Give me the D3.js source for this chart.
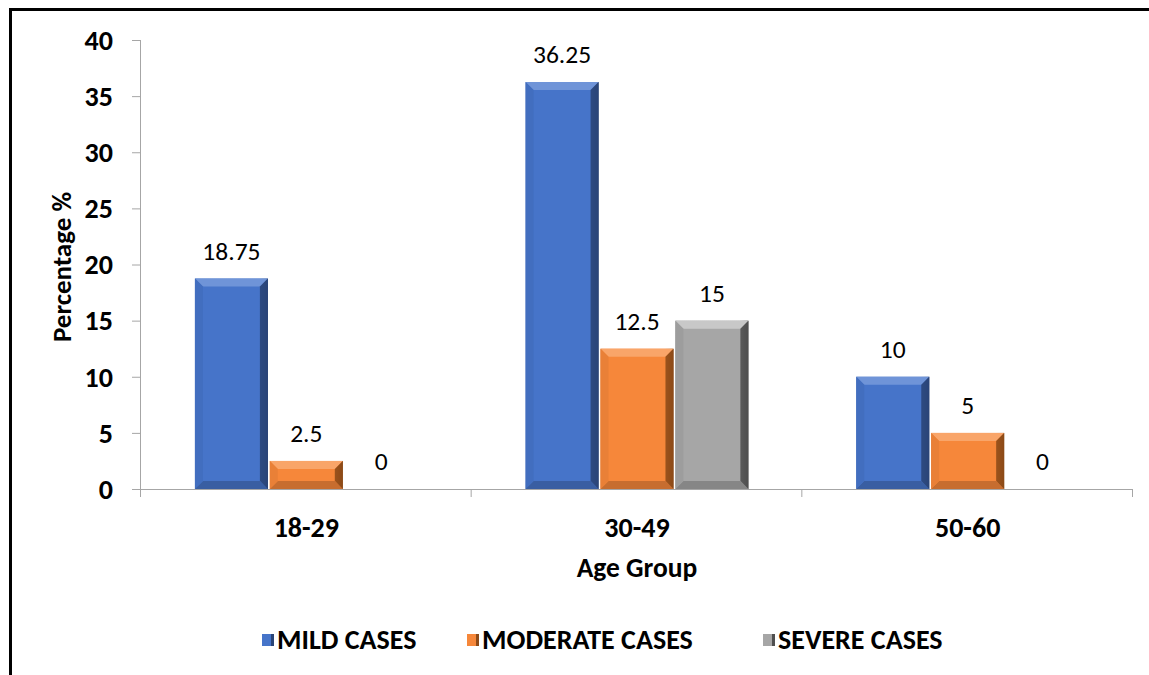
<!DOCTYPE html>
<html>
<head>
<meta charset="utf-8">
<script src="https://cdn.jsdelivr.net/npm/d3@7"></script>
<style>
  html, body { margin: 0; padding: 0; background: #fff; }
  svg { display: block; }
  text { font-family: Carlito, Calibri, "Open Sans", "Noto Sans", sans-serif; fill: #000; }
</style>
</head>
<body>
<svg id="chart" width="1149" height="675"></svg>
<script>
// Age groups along the x axis
const categories = ["18-29", "30-49", "50-60"];
// Series names (legend order)
const seriesNames = ["MILD CASES", "MODERATE CASES", "SEVERE CASES"];
// Percentages per series, one value per age group
const mild = [18.75, 36.25, 10];
const moderate = [2.5, 12.5, 5];
const severe = [0, 15, 0];
// Y axis ticks
const yTicks = [0, 5, 10, 15, 20, 25, 30, 35, 40];

const seriesValues = [mild, moderate, severe];
const colors = ["#4674c9", "#f6873a", "#a6a6a6"];
const darks = ["#2a4477", "#8c4a17", "#4f4f4f"];
const lights = ["#6f94d8", "#f9a569", "#c8c8c8"];

const svg = d3.select("#chart");
const W = 1149, H = 675;
const plot = { left: 141, right: 1133, top: 40, bottom: 489 };

// frame (top and left edges visible)
svg.append("line").attr("x1", 10).attr("x2", W).attr("y1", 9.5).attr("y2", 9.5)
  .attr("stroke", "#000").attr("stroke-width", 3);
svg.append("line").attr("x1", 10.5).attr("x2", 10.5).attr("y1", 8).attr("y2", H)
  .attr("stroke", "#000").attr("stroke-width", 3);

const y = d3.scaleLinear().domain([0, 40]).range([plot.bottom, plot.top]);
const x0 = d3.scaleBand().domain(categories).range([plot.left, plot.right]).paddingInner(0).paddingOuter(0);
const x1 = d3.scaleBand().domain(seriesNames).range([0, x0.bandwidth()]).paddingInner(0.025).paddingOuter(0.72);

// gradients giving the bars a bevelled look
const defs = svg.append("defs");
colors.forEach((c, i) => {
  const g = defs.append("linearGradient").attr("id", "hg" + i)
    .attr("x1", "0%").attr("x2", "100%").attr("y1", "0%").attr("y2", "0%");
  g.append("stop").attr("offset", "0%").attr("stop-color", d3.color(c).darker(0.25));
  g.append("stop").attr("offset", "6%").attr("stop-color", c);
  g.append("stop").attr("offset", "88%").attr("stop-color", c);
  g.append("stop").attr("offset", "100%").attr("stop-color", darks[i]);
});

// y axis
const yAxis = svg.append("g").attr("transform", `translate(${plot.left},0)`)
  .call(d3.axisLeft(y).tickValues(yTicks).tickSize(9).tickPadding(19));
yAxis.select(".domain").attr("stroke", "#a6a6a6").attr("d", `M-0.5,${plot.top}V${plot.bottom + 1}`);
yAxis.selectAll(".tick line").attr("stroke", "#a6a6a6");
yAxis.selectAll(".tick text").attr("font-size", 28).attr("font-weight", "bold").attr("fill", "#000")
  .attr("dy", "0.33em");

// x axis baseline and category separators
const xg = svg.append("g");
xg.append("line").attr("x1", plot.left).attr("x2", plot.right).attr("y1", plot.bottom + 0.5).attr("y2", plot.bottom + 0.5)
  .attr("stroke", "#a6a6a6");
const seps = categories.map(c => x0(c)).concat([plot.right]);
xg.selectAll("line.sep").data(seps).enter().append("line").attr("class", "sep")
  .attr("x1", d => d - 0.5).attr("x2", d => d - 0.5).attr("y1", plot.bottom).attr("y2", plot.bottom + 8)
  .attr("stroke", "#a6a6a6");
xg.selectAll("text.cat").data(categories).enter().append("text").attr("class", "cat")
  .attr("x", d => x0(d) + x0.bandwidth() / 2).attr("y", 537)
  .attr("text-anchor", "middle").attr("font-size", 28).attr("font-weight", "bold").text(d => d);

// bars
const bev = 8;
const groups = svg.selectAll("g.grp").data(categories).enter().append("g").attr("class", "grp")
  .attr("transform", d => `translate(${x0(d)},0)`);
groups.each(function (cat, ci) {
  const g = d3.select(this);
  seriesNames.forEach((s, si) => {
    const v = seriesValues[si][ci];
    const bx = x1(s), bw = x1.bandwidth();
    const top = y(v), bot = y(0);
    const h = bot - top;
    if (h > 0) {
      g.append("rect").attr("x", bx).attr("y", top).attr("width", bw).attr("height", h)
        .attr("fill", `url(#hg${si})`);
      const b = Math.min(bev, h / 2);
      // top bevel
      g.append("path").attr("d", `M${bx},${top}H${bx + bw}L${bx + bw - b},${top + b}H${bx + b}Z`)
        .attr("fill", lights[si]);
      // right bevel
      g.append("path").attr("d", `M${bx + bw},${top}V${bot}L${bx + bw - b},${bot - b}V${top + b}Z`)
        .attr("fill", darks[si]).attr("opacity", 0.85);
      // bottom bevel
      g.append("path").attr("d", `M${bx},${bot}H${bx + bw}L${bx + bw - b},${bot - b}H${bx + b}Z`)
        .attr("fill", d3.color(colors[si]).darker(0.6));
      // left bevel
      g.append("path").attr("d", `M${bx},${top}V${bot}L${bx + b},${bot - b}V${top + b}Z`)
        .attr("fill", d3.color(colors[si]).darker(0.15));
    }
    g.append("text").attr("x", bx + bw / 2).attr("y", top - 19)
      .attr("text-anchor", "middle").attr("font-size", 25.5).text(v);
  });
});

// axis titles
svg.append("text").attr("x", 637).attr("y", 577).attr("text-anchor", "middle")
  .attr("font-size", 27.5).attr("font-weight", "bold").text("Age Group");
svg.append("text").attr("transform", "translate(71,267) rotate(-90)").attr("text-anchor", "middle")
  .attr("font-size", 27).attr("font-weight", "bold").text("Percentage %");

// legend
const legendX = [262, 467, 763];
const lg = svg.selectAll("g.leg").data(seriesNames).enter().append("g").attr("class", "leg")
  .attr("transform", (d, i) => `translate(${legendX[i]},634)`);
lg.append("rect").attr("width", 12).attr("height", 12).attr("fill", (d, i) => colors[i]);
lg.append("rect").attr("x", 9).attr("width", 3).attr("height", 12).attr("fill", (d, i) => darks[i]);
lg.append("text").attr("x", 15).attr("y", 15).attr("font-size", 28).attr("font-weight", "bold").text(d => d);
</script>
</body>
</html>
